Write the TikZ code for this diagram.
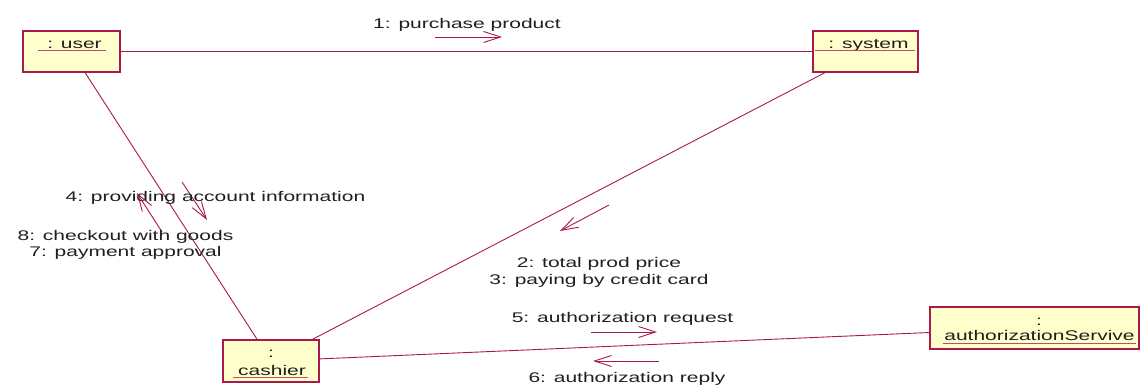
\documentclass[tikz,border=0pt]{standalone}
\usepackage{fontspec}
\newfontfamily\lblfont[FakeStretch=1.5]{Liberation Sans}
\usetikzlibrary{arrows.meta}
\definecolor{umlline}{RGB}{170,25,75}
\definecolor{umlfill}{RGB}{255,255,204}
\definecolor{umlunder}{RGB}{200,70,115}
\begin{document}
\begin{tikzpicture}[x=1pt,y=-1pt,
  objbox/.style={draw=umlline, fill=umlfill, line width=1.3pt, inner sep=0pt},
  lbl/.style={font=\lblfont\fontsize{14}{16}\selectfont, text=black!88, inner sep=0pt, anchor=base},
  assoc/.style={draw=umlline, line width=0.9pt},
  msg/.style={draw=umlline, line width=0.9pt, -{Straight Barb[length=17pt,width=11pt,line width=0.9pt]}},
  uline/.style={draw=umlunder, line width=1pt}]
\useasboundingbox (0,0) rectangle (1144,388);

% objects
\node[objbox, minimum width=97pt, minimum height=41pt] (user) at (71.5,51.5) {};
\node[objbox, minimum width=105pt, minimum height=41pt] (system) at (865.5,51.5) {};
\node[objbox, minimum width=96pt, minimum height=42pt] (cashier) at (271,361) {};
\node[objbox, minimum width=209pt, minimum height=42pt] (auth) at (1034.5,328) {};

% object names
\node[lbl] (tuser) at (74.5,48) {: user};
\draw[uline] (38,50) -- (106,50);
\node[lbl] (tsystem) at (868.5,48) {: system};
\draw[uline] (815,50) -- (915,50);
\node[lbl] (tcashc) at (271,357) {:};
\node[lbl] (tcash) at (272,375) {cashier};
\draw[uline] (233,377) -- (308,377);
\node[lbl] (tauthc) at (1039,325) {:};
\node[lbl] (tauth) at (1039.5,340.5) {authorizationServive};
\draw[uline] (943,343) -- (1136,343);

% associations
\draw[assoc] (user) -- (system);
\draw[assoc] (user) -- (cashier);
\draw[assoc] (system) -- (cashier);
\draw[assoc] (cashier) -- (auth);

% messages
\coordinate (m1s) at (435,37);   \coordinate (m1e) at (502,37);
\draw[msg] (m1s) -- (m1e);
\node[lbl] (l1) at (467,28) {1: purchase product};

\coordinate (m4s) at (182,182);  \coordinate (m4e) at (207,220);
\draw[msg] (m4s) -- (m4e);
\node[lbl] (l4) at (215.5,201) {4: providing account information};

\coordinate (m8s) at (162,232);  \coordinate (m8e) at (137,193);
\draw[msg] (m8s) -- (m8e);
\node[lbl] (l8) at (125.5,240) {8: checkout with goods};
\node[lbl] (l7) at (125.5,256) {7: payment approval};

\coordinate (m2s) at (609,205);  \coordinate (m2e) at (560,231);
\draw[msg] (m2s) -- (m2e);
\node[lbl] (l2) at (599,267) {2: total prod price};
\node[lbl] (l3) at (599,284) {3: paying by credit card};

\coordinate (m5s) at (591,332);  \coordinate (m5e) at (657,332);
\draw[msg] (m5s) -- (m5e);
\node[lbl] (l5) at (622.5,322) {5: authorization request};

\coordinate (m6s) at (659,361);  \coordinate (m6e) at (593,361);
\draw[msg] (m6s) -- (m6e);
\node[lbl] (l6) at (627,382) {6: authorization reply};
\end{tikzpicture}
\end{document}
